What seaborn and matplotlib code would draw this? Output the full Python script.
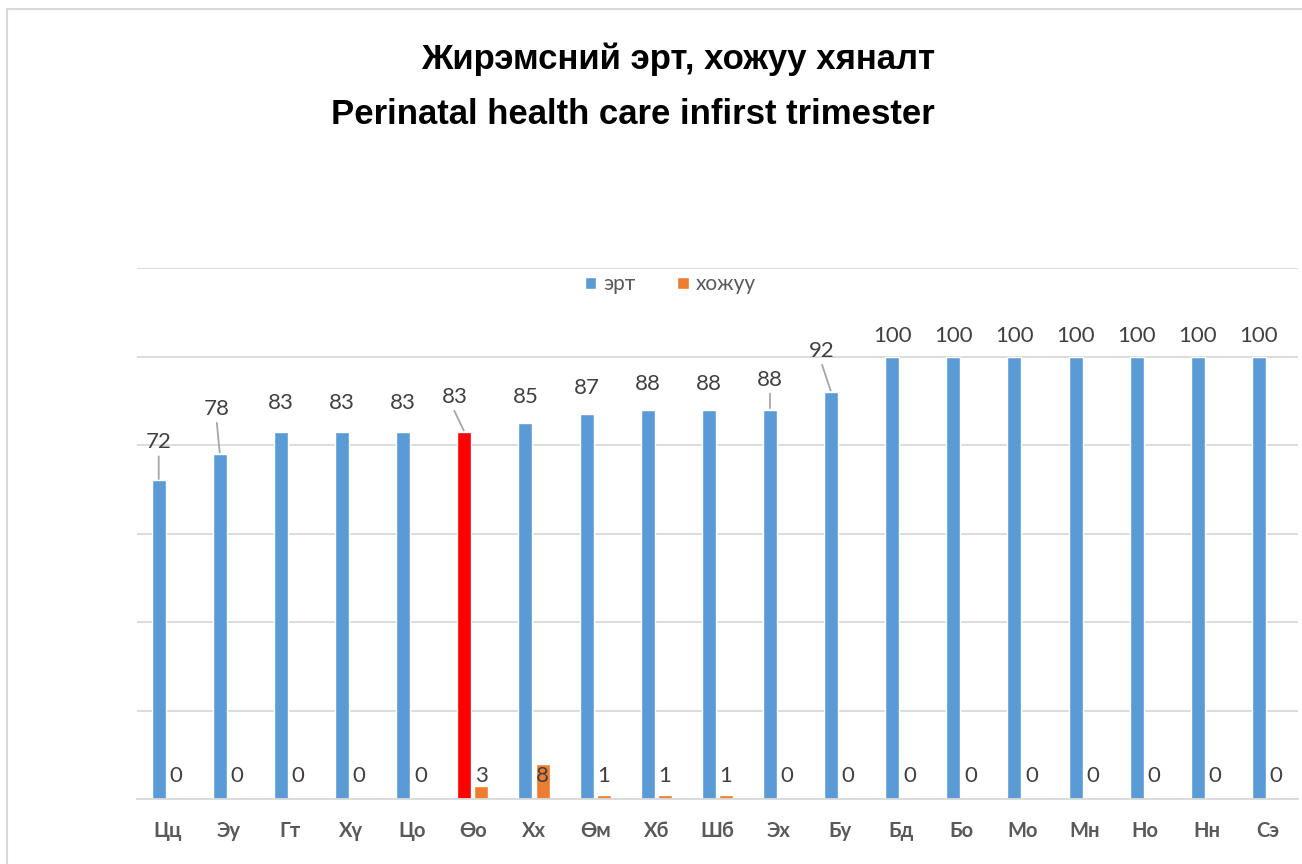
# Perinatal care chart: early vs late first check-up, by district
import numpy as np
import pandas as pd
import seaborn as sns
import matplotlib.pyplot as plt
from matplotlib.patches import Rectangle

# %%
# data
districts = ['Цц', 'Эу', 'Гт', 'Хү', 'Цо', 'Өо', 'Хх', 'Өм', 'Хб', 'Шб',
             'Эх', 'Бу', 'Бд', 'Бо', 'Мо', 'Мн', 'Но', 'Нн', 'Сэ']
early = [72, 78, 83, 83, 83, 83, 85, 87, 88, 88, 88, 92, 100, 100, 100, 100, 100, 100, 100]
late = [0, 0, 0, 0, 0, 3, 8, 1, 1, 1, 0, 0, 0, 0, 0, 0, 0, 0, 0]
series_names = ['эрт', 'хожуу']
highlight = 'Өо'

df = pd.DataFrame({
    'district': districts * 2,
    'value': early + late,
    'series': [series_names[0]] * len(districts) + [series_names[1]] * len(districts),
})

# %%
sns.set_theme(style='white')
label_font = ['Lato', 'Noto Sans', 'DejaVu Sans']
title_font = ['Liberation Sans Narrow', 'Liberation Sans', 'DejaVu Sans']
plt.rcParams['font.family'] = label_font

blue = '#5B9BD5'
orange = '#ED7D31'
grid_col = '#D9D9D9'

fig = plt.figure(figsize=(13.02, 8.64), dpi=100)
ax = fig.add_axes([0.105, 0.0752, 0.892, 0.6146])

sns.barplot(data=df, x='district', y='value', hue='series', order=districts,
            hue_order=series_names, palette=[blue, orange], width=0.56, gap=0.18,
            saturation=1, ax=ax, legend=True)

# highlighted district in red
hi = districts.index(highlight)
ax.containers[0][hi].set_facecolor('#FF0000')

ax.set_ylim(0, 120)
ax.set_yticks(np.arange(0, 121, 20))
ax.set_yticklabels([])
ax.tick_params(axis='y', length=0)
ax.grid(axis='y', color=grid_col, linewidth=1.3)
ax.set_axisbelow(True)
for s in ['top', 'right', 'left']:
    ax.spines[s].set_visible(False)
ax.spines['bottom'].set_color(grid_col)
ax.spines['bottom'].set_linewidth(1.3)
ax.set_xlabel('')
ax.set_ylabel('')
ax.tick_params(axis='x', length=0, pad=16)
for t in ax.get_xticklabels():
    t.set_fontweight('bold')
    t.set_color('#595959')
    t.set_fontsize(14.5)

# value labels for the early bars; some sit higher with a leader line
label_shift = {0: (0, 38), 1: (-3, 45), 5: (-10, 35), 10: (0, 30), 11: (-9, 41)}
for i, bar in enumerate(ax.containers[0]):
    xc = bar.get_x() + bar.get_width() / 2
    top = bar.get_height()
    if top >= 100:
        dx, dy = 0, 21
    elif top >= 85:
        dx, dy = 0, 26
    else:
        dx, dy = 0, 29
    if i in label_shift:
        dx, dy = label_shift[i]
        ax.annotate('', xy=(xc, top), xycoords='data',
                    xytext=(dx, dy - 14), textcoords='offset pixels',
                    arrowprops=dict(arrowstyle='-', color='#A6A6A6', lw=1.3,
                                    shrinkA=0, shrinkB=1))
    ax.annotate(str(early[i]), xy=(xc, top), xytext=(dx, dy),
                textcoords='offset pixels', ha='center', va='center',
                fontsize=16, color='#404040')

# labels for the late bars sit on one line near the axis
for i, bar in enumerate(ax.containers[1]):
    xc = bar.get_x() + bar.get_width() / 2
    ax.annotate(str(late[i]), xy=(xc, 0), xytext=(0, 23),
                textcoords='offset pixels', ha='center', va='center',
                fontsize=16, color='#404040')

ax.legend(loc='center', bbox_to_anchor=(0.515, 0.671), bbox_transform=fig.transFigure,
          ncol=2, frameon=False, fontsize=15, handlelength=0.55, handleheight=0.55,
          columnspacing=2.0, handletextpad=0.35, labelcolor='#595959')

# titles
fig.text(0.718, 0.932, 'Жирэмсний эрт, хожуу хяналт', ha='right', va='center',
         fontsize=25, fontweight='bold', family=title_font, color='black')
fig.text(0.718, 0.867, 'Perinatal health care infirst trimester', ha='right', va='center',
         fontsize=25, fontweight='bold', family=title_font, color='black')

# chart area border (left and top edges visible)
fig.patches.append(Rectangle((0.0054, -0.05), 1.1, 1.0396, transform=fig.transFigure,
                             fill=False, edgecolor=grid_col, linewidth=1.5))

fig.savefig('out.png', dpi=100)
